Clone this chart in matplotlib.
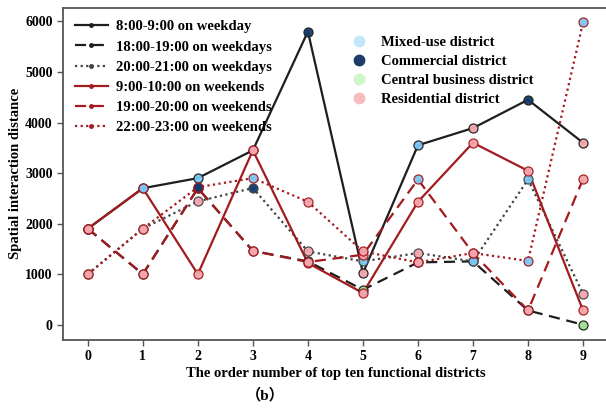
import numpy as np
import matplotlib.pyplot as plt
from matplotlib.lines import Line2D

plt.rcParams['font.family'] = ['Liberation Serif', 'Noto Sans CJK SC']
plt.rcParams['font.weight'] = 'bold'

order = np.arange(10)

# spatial interaction distance per time slot
wd_08_09 = [1900, 2700, 2900, 3450, 5800, 1020, 3550, 3890, 4450, 3600]
wd_18_19 = [1900, 1000, 2700, 1460, 1253, 692, 1233, 1253, 282, 0]
wd_20_21 = [1000, 1900, 2440, 2704, 1450, 1253, 1418, 1253, 2873, 611]
we_09_10 = [1900, 2700, 1000, 3450, 1220, 627, 2432, 3600, 3045, 282]
we_19_20 = [1900, 1000, 2700, 1460, 1240, 1385, 2873, 1418, 282, 2880]
we_22_23 = [1000, 1900, 2720, 2900, 2432, 1450, 1233, 1418, 1262, 5980]

# district type of each ranked point: M mixed-use, C commercial, B CBD, R residential
wd_08_09_type = list('RMMRCRMRCR')
wd_18_19_type = list('RRCRMBRMRB')
wd_20_21_type = list('RRRCRMRMMR')
we_09_10_type = list('RMRRRRRRRR')
we_19_20_type = list('RRCRRRMRRR')
we_22_23_type = list('RRCMRRRRMM')

district_names = ['Mixed-use district', 'Commercial district',
                  'Central business district', 'Residential district']
district_colors = {'M': '#7cc6f4', 'C': '#123a6c', 'B': '#9fe08f', 'R': '#f5a5ad'}
legend_colors = ['#c4e6fb', '#1d3a68', '#cdf7c6', '#f8bcbc']

series = [
    ('8:00-9:00 on weekday', wd_08_09, wd_08_09_type, '#1e1e1e', '-'),
    ('18:00-19:00 on weekdays', wd_18_19, wd_18_19_type, '#1e1e1e', (0, (5, 3))),
    ('20:00-21:00 on weekdays', wd_20_21, wd_20_21_type, '#444444', (0, (1, 1.5))),
    ('9:00-10:00 on weekends', we_09_10, we_09_10_type, '#a31b1f', '-'),
    ('19:00-20:00 on weekends', we_19_20, we_19_20_type, '#a31b1f', (0, (5, 3))),
    ('22:00-23:00 on weekends', we_22_23, we_22_23_type, '#a31b1f', (0, (1, 1.5))),
]

fig = plt.figure(figsize=(6.06, 4.09), dpi=100)
ax = fig.add_axes([0.104, 0.169, 0.899, 0.812])

line_handles = []
for label, vals, kinds, color, ls in series:
    ax.plot(order, vals, color=color, linestyle=ls, linewidth=1.6, zorder=2)
    for xi, yi, k in zip(order, vals, kinds):
        ax.plot(xi, yi, 'o', markersize=6.5, markerfacecolor=district_colors[k],
                markeredgecolor=color, markeredgewidth=0.9, alpha=0.95, zorder=3)
    line_handles.append(Line2D([], [], color=color, linestyle=ls, linewidth=1.6,
                               marker='o', markersize=2.5, label=label))

ax.set_xlim(-0.45, 9.45)
ax.set_ylim(-300, 6270)
ax.set_xticks(order)
ax.set_yticks(np.arange(0, 6001, 1000))

for sp in ['left', 'bottom', 'top']:
    ax.spines[sp].set_color('#555555')
    ax.spines[sp].set_linewidth(1.3)
ax.spines['right'].set_visible(False)
ax.tick_params(direction='out', length=4, width=1, color='#555555', labelsize=10)
for t in ax.get_xticklabels() + ax.get_yticklabels():
    t.set_fontweight('bold')

ax.set_xlabel('The order number of top ten functional districts', fontsize=10.5,
              fontweight='bold', labelpad=3)
ax.set_ylabel('Spatial interaction distance', fontsize=10.5, fontweight='bold',
              labelpad=2)

leg1 = ax.legend(handles=line_handles, loc='upper left', bbox_to_anchor=(0.0, 1.0),
                 frameon=False, prop={'weight': 'bold', 'size': 10.5},
                 handlelength=2.2, handletextpad=0.6, labelspacing=0.48,
                 borderaxespad=0.45)
ax.add_artist(leg1)

district_handles = [Line2D([], [], linestyle='none', marker='o', markersize=7.5,
                           markerfacecolor=c, markeredgecolor=c, label=n)
                    for n, c in zip(district_names, legend_colors)]
ax.legend(handles=district_handles, loc='upper left', bbox_to_anchor=(0.5, 0.955),
          frameon=False, prop={'weight': 'bold', 'size': 10.5},
          handlelength=1.5, labelspacing=0.4, handletextpad=0.75)

fig.text(0.438, 0.035, '（b）', ha='center', va='center', fontsize=11, fontweight='bold')

fig.savefig('out.png', dpi=100)
